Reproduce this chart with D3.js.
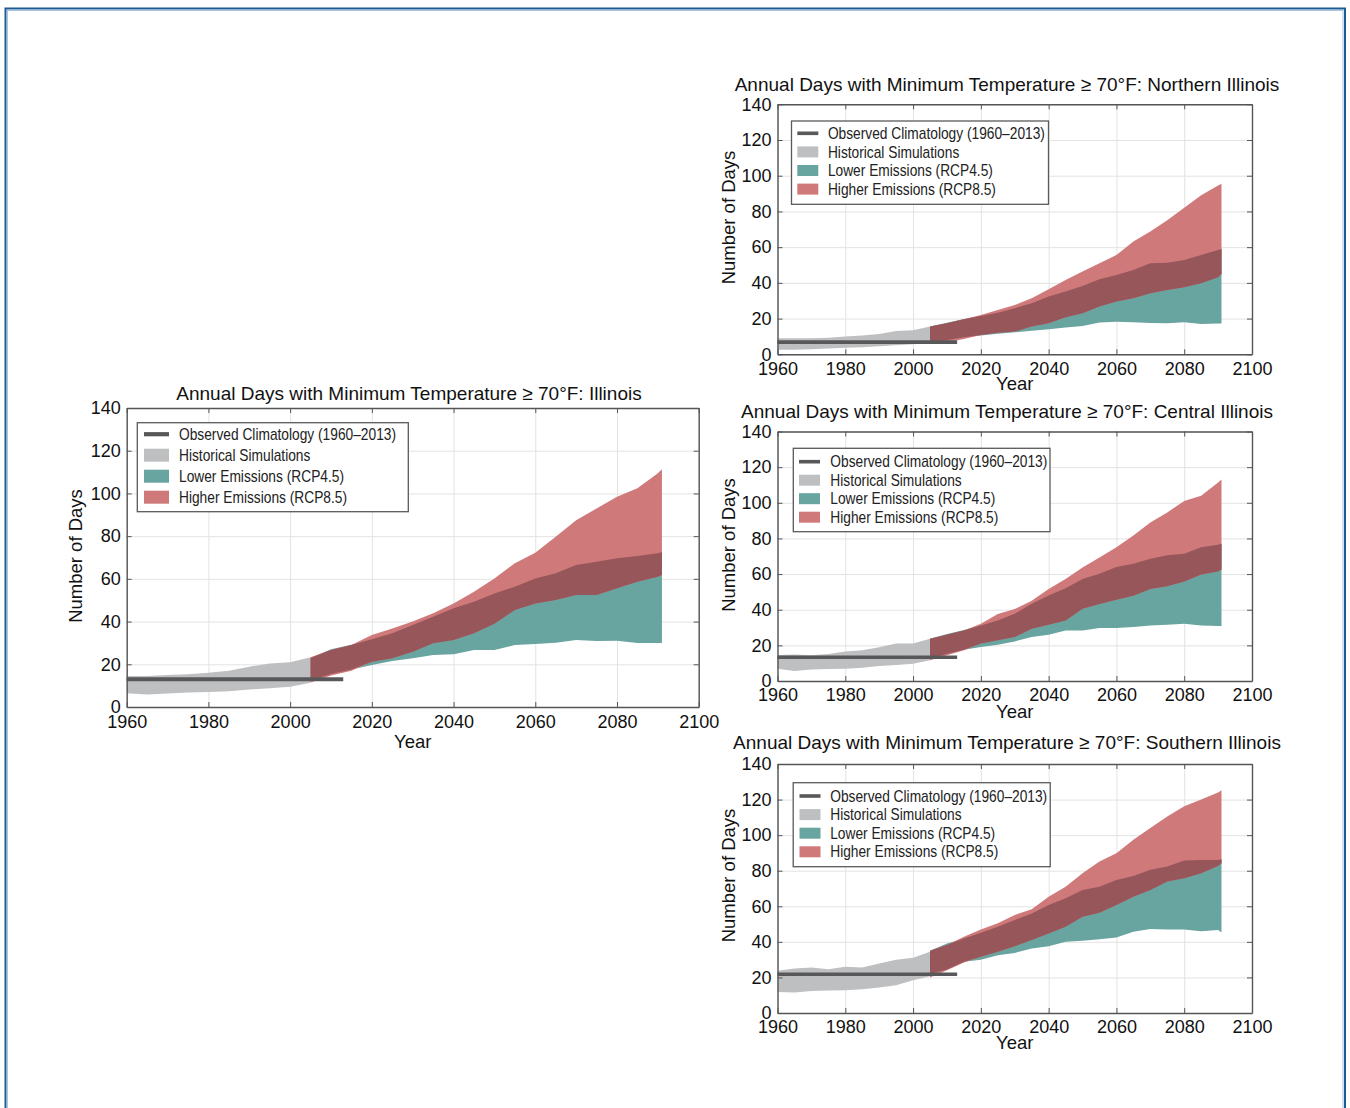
<!DOCTYPE html>
<html>
<head>
<meta charset="utf-8">
<script src="https://cdn.jsdelivr.net/npm/d3@7"></script>
<style>
  body { margin: 0; background: #fff; }
  svg { display: block; font-family: "Liberation Sans", Arial, sans-serif; }
</style>
</head>
<body>
<svg width="1350" height="1108"></svg>
<script>
// ticks and legend text
const xTicks = [1960, 1980, 2000, 2020, 2040, 2060, 2080, 2100];
const yTicks = [0, 20, 40, 60, 80, 100, 120, 140];
const legendLabels = ["Observed Climatology (1960\u20132013)", "Historical Simulations", "Lower Emissions (RCP4.5)", "Higher Emissions (RCP8.5)"];

// years
const histYears = [1960, 1965, 1970, 1975, 1980, 1985, 1990, 1995, 2000, 2005];
const projYears = [2005, 2010, 2015, 2020, 2025, 2030, 2035, 2040, 2045, 2050, 2055, 2060, 2065, 2070, 2075, 2080, 2085, 2090, 2091];
const obsYears = [1960, 2013];

// Illinois
const ilHistLo = [6.4, 5.8, 6.3, 6.8, 7.0, 7.4, 8.2, 8.8, 9.5, 11.4];
const ilHistHi = [14.5, 14.5, 15, 15.3, 16, 17, 18.9, 20.4, 21, 23.3];
const ilObs = 13;
const ilLowerMin = [12.5, 15.4, 17.6, 19.7, 21.5, 22.8, 24.3, 24.7, 26.7, 26.7, 29, 29.5, 30.1, 31.4, 30.9, 31, 30, 30, 30];
const ilLowerMax = [23, 27, 29.2, 31.7, 34.5, 38.4, 42.3, 46.2, 49.3, 53.2, 56.3, 60.2, 62.6, 66.5, 68, 69.6, 70.7, 72, 72.5];
const ilHigherMin = [11.5, 14.8, 17, 21.2, 22.8, 25.9, 29.8, 31.4, 34.5, 39, 45.4, 48.5, 50.1, 52.4, 52.4, 55.6, 58.7, 61, 61.8];
const ilHigherMax = [23.3, 26.7, 29, 33.7, 36.8, 40, 43.9, 48.5, 54, 60.2, 67.3, 72.2, 79.7, 87.5, 93, 98.5, 102.4, 109.4, 111.3];

// Northern Illinois
const noHistLo = [2.5, 2.5, 2.8, 3.2, 3.7, 4.0, 4.5, 5.0, 5.6, 6.5];
const noHistHi = [9, 9, 9, 9.3, 9.9, 10.5, 11.4, 13, 13.5, 15.5];
const noObs = 6.8;
const noLowerMin = [6.5, 8, 9.5, 10.5, 11.5, 12.3, 13.2, 14, 15, 15.8, 17.8, 18.2, 18, 17.5, 17.4, 18, 17, 17.2, 17.2];
const noLowerMax = [15.5, 17.6, 19.8, 21.5, 23.3, 25.8, 28.6, 32.3, 35.1, 38.3, 42, 44.4, 47.2, 51, 51.3, 52.8, 55.6, 58.4, 59];
const noHigherMin = [6, 6.8, 8.5, 10.8, 12.1, 12.7, 15.5, 17.4, 20.7, 23, 26.7, 29.5, 31.4, 34.2, 36, 37.5, 39.8, 43.1, 45];
const noHigherMax = [15.5, 17.4, 19.6, 22, 24.8, 27.6, 31.4, 36.4, 41.6, 46.3, 51, 55.6, 63.1, 68.7, 75, 82, 89, 94.5, 95.5];

// Central Illinois
const ceHistLo = [6.9, 5.6, 6.5, 6.7, 6.9, 7.4, 8.4, 9, 9.7, 11.6];
const ceHistHi = [14.6, 14.8, 14.4, 15.2, 16.6, 17.2, 19, 21, 21, 23.7];
const ceObs = 13.3;
const ceLowerMin = [12.5, 15.3, 17.6, 19.1, 20.4, 22.2, 24.7, 26, 28.4, 28.4, 29.7, 29.7, 30.3, 31.2, 31.6, 32.1, 31.2, 30.8, 30.8];
const ceLowerMax = [23.7, 26.4, 28.6, 31.2, 34, 37.8, 43.4, 48, 52, 57.2, 60.2, 64, 65.8, 68.6, 70.5, 71.4, 75.1, 76.4, 77];
const ceHigherMin = [11.6, 14.4, 17.2, 21, 22.8, 24.7, 29.3, 31.6, 34, 40.6, 43.2, 45.6, 47.9, 51.6, 53.1, 55.9, 59.8, 61.5, 62.6];
const ceHigherMax = [23.7, 26, 28.4, 32.1, 37.6, 40.4, 45, 51.6, 57.2, 63.7, 69.3, 75, 81.7, 89, 94.6, 101, 104, 111.4, 113];

// Southern Illinois
const soHistLo = [11.8, 11.5, 12.4, 12.6, 12.8, 13.4, 14.3, 15.6, 18.4, 20.7];
const soHistHi = [23.7, 25, 25.6, 24.6, 26, 25.6, 27.8, 30, 31, 34.4];
const soObs = 21.8;
const soLowerMin = [22, 24.4, 28.8, 30, 32.5, 33.8, 36.3, 37.6, 40, 40.6, 41.4, 42.5, 45.7, 47.2, 47, 47, 46, 46.6, 45.3];
const soLowerMax = [35, 39.1, 41.9, 45.1, 48.5, 52.3, 56, 60.7, 64.5, 69.2, 71, 74.8, 77, 80.5, 82.3, 85.7, 86, 86, 86.5];
const soHigherMin = [20, 24, 28.4, 31.6, 34.4, 37.6, 41, 44.7, 48.5, 54.1, 56.4, 60.7, 65.4, 69.2, 73.9, 75.8, 78.6, 82.7, 84.2];
const soHigherMax = [35, 38.2, 42.9, 47, 50.4, 55.1, 58.3, 65.4, 71, 78.6, 85.2, 89.8, 97.4, 104, 110.5, 116.2, 120, 124, 125.2];

const colGray = "#bebfc1", colTeal = "#68a4a0", colRed = "#d0797a", colDark = "#96565a", colObs = "#58585a";

const svg = d3.select("svg");

// page frame
svg.append("rect").attr("x", 5.5).attr("y", 8.5).attr("width", 1339.5).attr("height", 1200)
  .attr("fill", "none").attr("stroke", "#1c5b94").attr("stroke-width", 2);
svg.append("rect").attr("x", 7.5).attr("y", 10.5).attr("width", 1335.5).attr("height", 1200)
  .attr("fill", "none").attr("stroke", "#a8c6e2").attr("stroke-width", 1);

function band(years, lo, hi) {
  return years.map((yr, i) => ({year: yr, lo: lo[i], hi: hi[i]}));
}

function drawPanel(p) {
  const x = d3.scaleLinear().domain([1960, 2100]).range([p.left, p.right]);
  const y = d3.scaleLinear().domain([0, 140]).range([p.bottom, p.top]);
  const g = svg.append("g");
  const w = p.right - p.left, h = p.bottom - p.top;

  // grid
  g.append("g").attr("transform", "translate(0," + p.bottom + ")")
    .call(d3.axisBottom(x).tickValues(xTicks).tickSize(-h).tickFormat(""))
    .call(a => a.select(".domain").remove())
    .selectAll("line").attr("stroke", "#e3e3e3");
  g.append("g").attr("transform", "translate(" + p.left + ",0)")
    .call(d3.axisLeft(y).tickValues(yTicks).tickSize(-w).tickFormat(""))
    .call(a => a.select(".domain").remove())
    .selectAll("line").attr("stroke", "#e3e3e3");

  const area = d3.area().x(d => x(d.year)).y0(d => y(d.lo)).y1(d => y(d.hi));

  g.append("path").attr("d", area(band(histYears, p.histLo, p.histHi))).attr("fill", colGray);
  g.append("path").attr("d", area(band(projYears, p.lowMin, p.lowMax))).attr("fill", colTeal);
  g.append("path").attr("d", area(band(projYears, p.highMin, p.highMax))).attr("fill", colRed);
  const overlap = projYears.map((yr, i) => ({
    year: yr,
    lo: Math.max(p.lowMin[i], p.highMin[i]),
    hi: Math.min(p.lowMax[i], p.highMax[i])
  }));
  g.append("path").attr("d", area(overlap)).attr("fill", colDark);

  // observed climatology
  g.append("path")
    .attr("d", d3.line().x(d => x(d)).y(() => y(p.obs))(obsYears))
    .attr("stroke", colObs).attr("stroke-width", p.obsW).attr("fill", "none");

  // axes (inward ticks on all sides)
  const fs = 18;
  const bottomAx = g.append("g").attr("transform", "translate(0," + p.bottom + ")")
    .call(d3.axisBottom(x).tickValues(xTicks).tickFormat(d3.format("d")).tickSizeInner(-5).tickSizeOuter(0).tickPadding(p.xPad));
  const leftAx = g.append("g").attr("transform", "translate(" + p.left + ",0)")
    .call(d3.axisLeft(y).tickValues(yTicks).tickSizeInner(-5).tickSizeOuter(0).tickPadding(6));
  const topAx = g.append("g").attr("transform", "translate(0," + p.top + ")")
    .call(d3.axisTop(x).tickValues(xTicks).tickFormat("").tickSizeInner(-5).tickSizeOuter(0));
  const rightAx = g.append("g").attr("transform", "translate(" + p.right + ",0)")
    .call(d3.axisRight(y).tickValues(yTicks).tickFormat("").tickSizeInner(-5).tickSizeOuter(0));
  [bottomAx, leftAx, topAx, rightAx].forEach(a => {
    a.select(".domain").attr("stroke", "#555").attr("stroke-width", 1.4);
    a.selectAll(".tick line").attr("stroke", "#555").attr("stroke-width", 1);
    a.selectAll("text").attr("font-size", fs).attr("fill", "#111")
      .attr("font-family", "'Liberation Sans', Arial, sans-serif");
  });

  // titles and labels
  g.append("text").attr("x", p.titleX).attr("y", p.titleY).attr("dy", "0.35em")
    .attr("text-anchor", "middle").attr("font-size", 19).attr("fill", "#111").text(p.title);
  g.append("text").attr("x", (p.left + p.right) / 2).attr("y", p.xLabelY).attr("dy", "0.35em")
    .attr("text-anchor", "middle").attr("font-size", 18.5).attr("fill", "#111").text("Year");
  g.append("text").attr("transform", "translate(" + p.yLabelX + "," + p.yLabelY + ") rotate(-90)")
    .attr("dy", "0.35em").attr("text-anchor", "middle").attr("font-size", 18.5).attr("fill", "#111")
    .text("Number of Days");

  // legend
  const L = p.legend;
  const lg = g.append("g").attr("transform", "translate(" + L.x + "," + L.y + ")");
  lg.append("rect").attr("width", L.w).attr("height", L.h)
    .attr("fill", "#fff").attr("stroke", "#5a5a5a").attr("stroke-width", 1.3);
  const swatchCols = [colObs, colGray, colTeal, colRed];
  legendLabels.forEach((lab, i) => {
    const cy = L.row0 + i * L.rowGap;
    if (i === 0) {
      lg.append("line").attr("x1", L.swX).attr("x2", L.swX + L.swW).attr("y1", cy).attr("y2", cy)
        .attr("stroke", colObs).attr("stroke-width", p.obsW);
    } else {
      lg.append("rect").attr("x", L.swX).attr("y", cy - L.patchH / 2).attr("width", L.swW).attr("height", L.patchH)
        .attr("fill", swatchCols[i]);
    }
    lg.append("text").attr("transform", "translate(" + L.txtX + "," + cy + ") scale(0.86,1)")
      .attr("dy", "0.35em").attr("font-size", 16).attr("fill", "#222").text(lab);
  });
}

const panels = [
  {title: "Annual Days with Minimum Temperature \u2265 70\u00b0F: Illinois",
   left: 126.7, right: 698.7, top: 408, bottom: 707, xPad: 8.6,
   titleX: 409, titleY: 393, xLabelY: 742, yLabelX: 76, yLabelY: 556, obsW: 4.2,
   histLo: ilHistLo, histHi: ilHistHi, obs: ilObs,
   lowMin: ilLowerMin, lowMax: ilLowerMax, highMin: ilHigherMin, highMax: ilHigherMax,
   legend: {x: 137.3, y: 422.7, w: 271, h: 89, row0: 11.5, rowGap: 21, swX: 6.7, swW: 25, txtX: 41.7, patchH: 13}},
  {title: "Annual Days with Minimum Temperature \u2265 70\u00b0F: Northern Illinois",
   left: 777.5, right: 1252, top: 104.3, bottom: 354.3, xPad: 7.6,
   titleX: 1007, titleY: 84, xLabelY: 384, yLabelX: 729, yLabelY: 217.5, obsW: 3.6,
   histLo: noHistLo, histHi: noHistHi, obs: noObs,
   lowMin: noLowerMin, lowMax: noLowerMax, highMin: noHigherMin, highMax: noHigherMax,
   legend: {x: 791.5, y: 121, w: 257, h: 83.3, row0: 12.3, rowGap: 18.6, swX: 5.8, swW: 21, txtX: 36.4, patchH: 11}},
  {title: "Annual Days with Minimum Temperature \u2265 70\u00b0F: Central Illinois",
   left: 777.5, right: 1252, top: 431.5, bottom: 681, xPad: 7.6,
   titleX: 1007, titleY: 411, xLabelY: 712, yLabelX: 729, yLabelY: 545, obsW: 3.6,
   histLo: ceHistLo, histHi: ceHistHi, obs: ceObs,
   lowMin: ceLowerMin, lowMax: ceLowerMax, highMin: ceHigherMin, highMax: ceHigherMax,
   legend: {x: 793.3, y: 448.3, w: 256.7, h: 83.4, row0: 13.4, rowGap: 18.5, swX: 5.7, swW: 21, txtX: 37, patchH: 11}},
  {title: "Annual Days with Minimum Temperature \u2265 70\u00b0F: Southern Illinois",
   left: 777.5, right: 1252, top: 764, bottom: 1013, xPad: 7.2,
   titleX: 1007, titleY: 742, xLabelY: 1043, yLabelX: 729, yLabelY: 875.5, obsW: 3.6,
   histLo: soHistLo, histHi: soHistHi, obs: soObs,
   lowMin: soLowerMin, lowMax: soLowerMax, highMin: soHigherMin, highMax: soHigherMax,
   legend: {x: 793.2, y: 782.7, w: 257, h: 84, row0: 13.3, rowGap: 18.6, swX: 6.3, swW: 21, txtX: 37, patchH: 11}}
];

panels.forEach(drawPanel);
</script>
</body>
</html>
